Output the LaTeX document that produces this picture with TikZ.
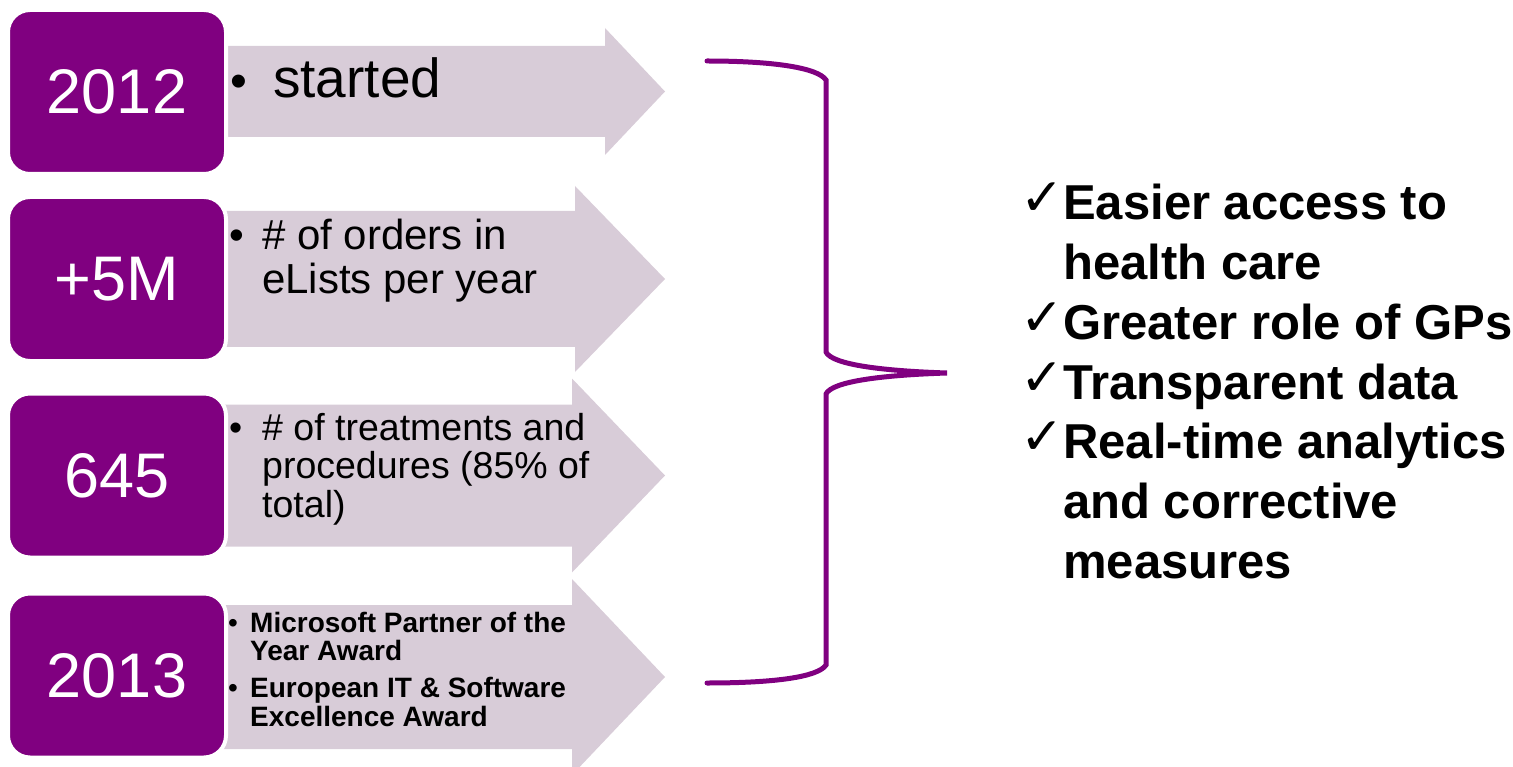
\documentclass[tikz,border=0pt]{standalone}
\usepackage{fontspec}
\setmainfont{Liberation Sans}
\newfontfamily\checkfont{DejaVu Sans}
\usepackage{tikz}
\definecolor{yearpurple}{RGB}{128,0,128}
\definecolor{arrowgray}{RGB}{216,204,216}
\newcommand{\chk}{\smash{\raisebox{4pt}{\makebox[0pt][l]{\hspace{-3pt}\checkfont\fontsize{52}{52}\selectfont ✓}}}}

\begin{document}
\begin{tikzpicture}[x=1pt,y=-1pt,
        yearbox/.style={fill=yearpurple, draw=white, line width=4pt, rounded corners=22pt,
            minimum width=218pt, minimum height=164pt, inner sep=0pt, text=white,
            font=\fontsize{63}{63}\selectfont},
        bullettext/.style={anchor=base west, inner sep=0pt},
        arrowbody/.style={fill=arrowgray}]
            \useasboundingbox (0,0) rectangle (1513,767);

            % arrows behind the year boxes
            \foreach \cy/\bh/\hh/\hb in {91.5/45.5/63.5/605, 279/68/93/575, 475.5/71/97/572, 677/72/98/572}
                \fill[arrowbody] (215,\cy-\bh) -- (\hb,\cy-\bh) -- (\hb,\cy-\hh) -- (665,\cy)
                    -- (\hb,\cy+\hh) -- (\hb,\cy+\bh) -- (215,\cy+\bh) -- cycle;

            \node[yearbox] (y2012) at (117,92) {2012};
            \node[yearbox] (y5m) at (117,279) {+5M};
            \node[yearbox] (y645) at (117,475.5) {645};
            \node[yearbox] (y2013) at (117,675.5) {2013};

            \node[bullettext, font=\fontsize{55}{55}\selectfont] (started) at (230,98)
                {\begin{tabular}[t]{@{}p{43pt}@{}l@{}}{\fontsize{48}{48}\selectfont\textbullet} & started\end{tabular}};
            \node[bullettext, font=\fontsize{42}{43}\selectfont] (orders) at (229,250)
                {\begin{tabular}[t]{@{}p{33pt}@{}l@{}}\textbullet & \# of orders in\\ & eLists per year\end{tabular}};
            \node[bullettext, font=\fontsize{37.5}{38.5}\selectfont] (treatments) at (229,440)
                {\begin{tabular}[t]{@{}p{33pt}@{}l@{}}\textbullet & \# of treatments and\\ & procedures (85\% of\\ & total)\end{tabular}};
            \node[bullettext, font=\bfseries\fontsize{28}{28}\selectfont] (awards) at (228,632)
                {\begin{tabular}[t]{@{}p{22pt}@{}l@{}}{\mdseries\textbullet} & Microsoft Partner of the\\ & Year Award\\[8pt]
                 {\mdseries\textbullet} & European IT \& Software\\ & Excellence Award\end{tabular}};

            % brace
            \draw[yearpurple, line width=5pt, line cap=round]
                (707,61) .. controls (775,61) and (818,68) .. (826,80) -- (826,352)
                .. controls (832,365) and (885,371) .. (947,373)
                .. controls (885,375) and (832,381) .. (826,394) -- (826,665)
                .. controls (818,677) and (775,683) .. (707,683);

            \node[bullettext, font=\bfseries\fontsize{49}{59.7}\selectfont] (benefits) at (1023,220)
                {\begin{tabular}[t]{@{}p{40pt}@{}l@{}}\chk & Easier access to\\ & health care\\
                 \chk & Greater role of GPs\\ \chk & Transparent data\\ \chk & Real-time analytics\\
                 & and corrective\\ & measures\end{tabular}};
        \end{tikzpicture}
\end{document}
